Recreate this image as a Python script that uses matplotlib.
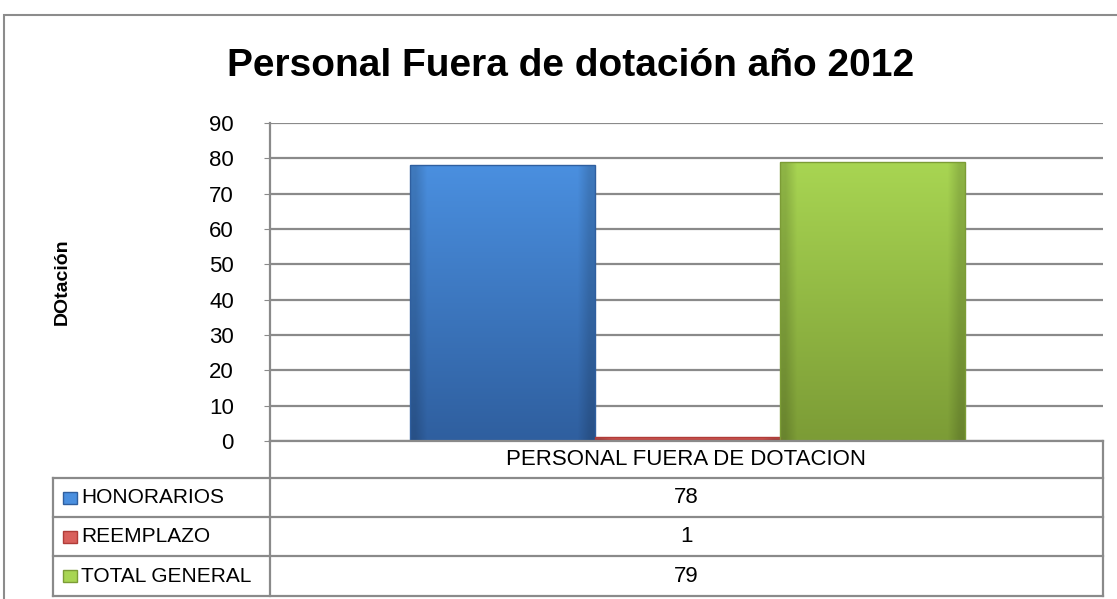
import matplotlib
matplotlib.use("Agg")
import matplotlib.pyplot as plt
import numpy as np
from matplotlib.patches import Rectangle
from matplotlib.lines import Line2D

# datos
category = "PERSONAL FUERA DE DOTACION"
series = ["HONORARIOS", "REEMPLAZO", "TOTAL GENERAL"]
values = [78, 1, 79]
colors_top = ["#4a8fdf", "#d9605c", "#a8d552"]
colors_bottom = ["#2f5f9f", "#b03c38", "#7c9c36"]
yticks = [0, 10, 20, 30, 40, 50, 60, 70, 80, 90]

W, H = 1117, 599
plt.rcParams['font.family'] = ['Liberation Sans', 'DejaVu Sans']

fig = plt.figure(figsize=(W / 100, H / 100), dpi=100)

def fx(px):
    return px / W

def fy(py):
    return 1 - py / H

grid_col = "#8a8a8a"

# marco exterior
fig.add_artist(Rectangle((fx(4), fy(640)), fx(1200), fy(15) - fy(640),
                         transform=fig.transFigure, fill=False,
                         edgecolor="#8c8c8c", lw=1.5))

ax_l, ax_r, ax_t, ax_b = 270, 1103, 123, 441
ax = fig.add_axes([fx(ax_l), fy(ax_b), fx(ax_r - ax_l), fy(ax_t) - fy(ax_b)])
ax.set_xlim(0, 1)
ax.set_ylim(0, 90)
ax.set_yticks(yticks)
ax.set_yticklabels([str(t) for t in yticks], fontsize=16)
ax.set_xticks([])
ax.tick_params(axis='y', length=4, color=grid_col, pad=22)
ax.yaxis.grid(True, color=grid_col, lw=1.6)
ax.set_axisbelow(True)
for s in ["top", "right", "bottom"]:
    ax.spines[s].set_visible(False)
ax.spines["left"].set_color(grid_col)
ax.spines["left"].set_linewidth(1.6)

# barras con degradado
bar_w = 0.222
center = 0.501
for i, (v, ct, cb) in enumerate(zip(values, colors_top, colors_bottom)):
    x0 = center + (i - 1) * bar_w - bar_w / 2
    c1 = np.array(matplotlib.colors.to_rgb(ct))
    c2 = np.array(matplotlib.colors.to_rgb(cb))
    t = np.linspace(0, 1, 64)[:, None]
    grad = c1 * (1 - t) + c2 * t
    img = np.repeat(grad[:, None, :], 16, axis=1)
    # bordes laterales algo mas oscuros
    shade = np.ones(16)
    shade[0] = shade[-1] = 0.85
    img = img * shade[None, :, None]
    rect = Rectangle((x0, 0), bar_w, v, facecolor="none", edgecolor="none")
    ax.add_patch(rect)
    im = ax.imshow(img, extent=[x0, x0 + bar_w, 0, v], aspect="auto",
                   origin="upper", zorder=3, interpolation="bilinear")
    im.set_clip_path(rect)
    ax.add_patch(Rectangle((x0, 0), bar_w, v, facecolor="none",
                           edgecolor=cb, lw=1.0, zorder=4))

fig.text(fx(62), fy(282), "DOtación", fontsize=14, fontweight="bold",
         rotation=90, ha="center", va="center")

fig.text(fx(571), fy(66), "Personal Fuera de dotación año 2012",
         fontsize=28, fontweight="bold", ha="center", va="center")

# tabla de datos
rows_y = [441, 478, 517, 556, 596]
tab_l = 53

def hline(x0, x1, y):
    fig.add_artist(Line2D([fx(x0), fx(x1)], [fy(y), fy(y)],
                          transform=fig.transFigure, color=grid_col, lw=1.6))

def vline(x, y0, y1):
    fig.add_artist(Line2D([fx(x), fx(x)], [fy(y0), fy(y1)],
                          transform=fig.transFigure, color=grid_col, lw=1.6))

hline(ax_l, ax_r, rows_y[0])
for y in rows_y[1:]:
    hline(tab_l, ax_r, y)
vline(ax_l, rows_y[0], rows_y[-1])
vline(ax_r, rows_y[0], rows_y[-1])
vline(tab_l, rows_y[1], rows_y[-1])

mid = (ax_l + ax_r) / 2
fig.text(fx(mid), fy((rows_y[0] + rows_y[1]) / 2), category,
         fontsize=16, ha="center", va="center")
for k, (name, v, ct, cb) in enumerate(zip(series, values, colors_top, colors_bottom)):
    yc = (rows_y[k + 1] + rows_y[k + 2]) / 2
    fig.add_artist(Rectangle((fx(63), fy(yc + 6)), fx(14), fy(yc - 6) - fy(yc + 6),
                             transform=fig.transFigure, facecolor=ct,
                             edgecolor=cb, lw=1))
    fig.text(fx(81), fy(yc), name, fontsize=15, ha="left", va="center")
    fig.text(fx(mid), fy(yc), str(v), fontsize=16, ha="center", va="center")

fig.savefig("out.png", dpi=100)
